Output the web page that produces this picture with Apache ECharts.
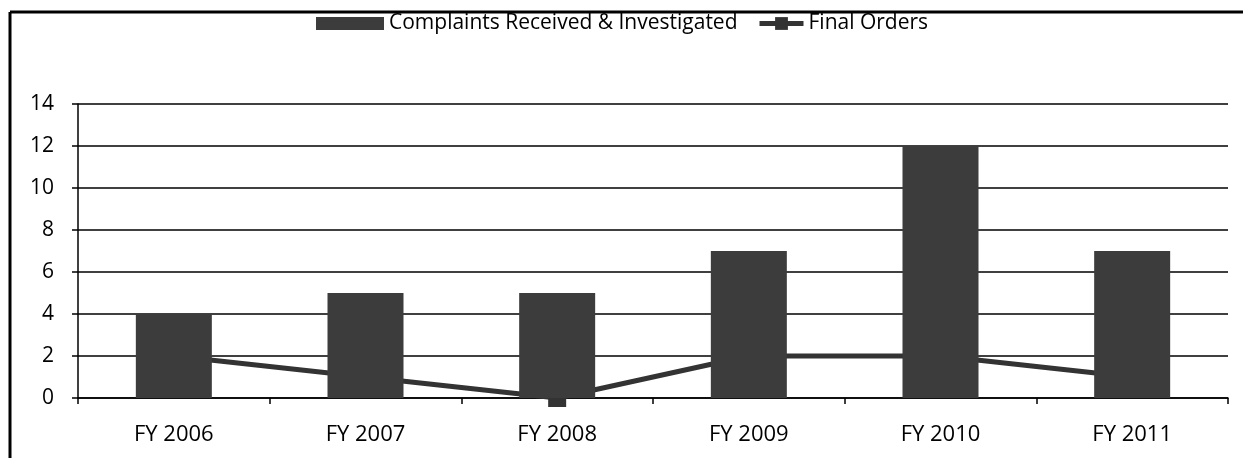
<!DOCTYPE html>
<html>
<head>
<meta charset="utf-8">
<script src="https://cdn.jsdelivr.net/npm/echarts@6/dist/echarts.min.js"></script>
<style>
  html, body { margin: 0; padding: 0; background: #fff; }
  #chart { width: 1243px; height: 458px; }
</style>
</head>
<body>
<div id="chart"></div>
<script>
const categories = ['FY 2006', 'FY 2007', 'FY 2008', 'FY 2009', 'FY 2010', 'FY 2011'];
const complaints = [4, 5, 5, 7, 12, 7];
const finalOrders = [2, 1, 0, 2, 2, 1];
const yTicks = [0, 2, 4, 6, 8, 10, 12, 14];

const chart = echarts.init(document.getElementById('chart'));

const font = '"Open Sans", "Noto Sans", sans-serif';
const legendText = { fontSize: 21, color: '#000', fontFamily: font };

chart.setOption({
  animation: false,
  textStyle: { fontFamily: font },
  graphic: [
    // scanned page frame
    { type: 'line', shape: { x1: 10, y1: 12, x2: 1243, y2: 12 }, style: { stroke: '#000', lineWidth: 3 } },
    { type: 'line', shape: { x1: 10, y1: 12, x2: 10, y2: 458 }, style: { stroke: '#000', lineWidth: 3 } }
  ],
  legend: [
    {
      top: 8,
      left: 311,
      itemGap: 0,
      itemWidth: 68,
      itemHeight: 13,
      textStyle: legendText,
      data: [{ name: 'Complaints Received & Investigated', icon: 'rect' }]
    },
    {
      top: 8,
      left: 752,
      itemGap: 0,
      itemWidth: 44,
      itemHeight: 16,
      textStyle: legendText,
      lineStyle: { width: 5 },
      data: ['Final Orders']
    }
  ],
  grid: { left: 78, right: 15, top: 104, bottom: 60 },
  xAxis: {
    type: 'category',
    data: categories,
    axisLine: { lineStyle: { color: '#000', width: 1.5 } },
    axisTick: { show: true, length: 6, lineStyle: { color: '#000', width: 1.5 } },
    axisLabel: { color: '#000', fontSize: 22, margin: 26, fontFamily: font }
  },
  yAxis: {
    type: 'value',
    min: yTicks[0],
    max: yTicks[yTicks.length - 1],
    interval: 2,
    axisLine: { show: true, lineStyle: { color: '#000', width: 1.5 } },
    axisTick: { show: true, length: 6, lineStyle: { color: '#000', width: 1.5 } },
    splitLine: { lineStyle: { color: '#000', width: 1.5 } },
    axisLabel: { color: '#000', fontSize: 21, margin: 24, fontFamily: font }
  },
  series: [
    {
      name: 'Final Orders',
      type: 'line',
      data: finalOrders,
      z: 1,
      symbol: 'rect',
      symbolSize: 18,
      lineStyle: { color: '#333', width: 5 },
      itemStyle: { color: '#333' }
    },
    {
      name: 'Complaints Received & Investigated',
      type: 'bar',
      data: complaints,
      z: 3,
      barWidth: 76,
      itemStyle: { color: '#3c3c3c' }
    }
  ]
});
</script>
</body>
</html>
